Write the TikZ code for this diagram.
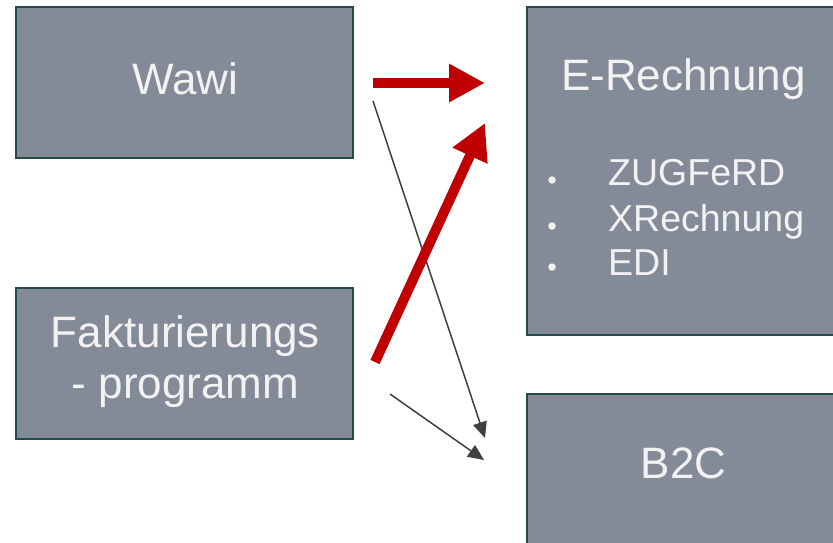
\documentclass[tikz,border=0pt]{standalone}
\usepackage{fontspec}
\setmainfont{Liberation Sans}
\usetikzlibrary{arrows.meta}
\definecolor{boxfill}{HTML}{848B98}
\definecolor{boxline}{HTML}{244A4A}
\definecolor{txt}{HTML}{F2F2F2}
\definecolor{redarrow}{HTML}{C00000}
\definecolor{thinarrow}{HTML}{404040}
\tikzset{
  block/.style={draw=boxline, line width=2.5pt, fill=boxfill, inner sep=0pt},
  bigtext/.style={text=txt, font=\fontsize{44}{51}\selectfont, inner sep=0pt, align=center},
  listtext/.style={text=txt, font=\fontsize{37.5}{45}\selectfont, inner sep=0pt, anchor=base west},
  bulletdot/.style={circle, fill=txt, inner sep=0pt, minimum size=7.5pt},
  redconn/.style={draw=redarrow, line width=10pt, -{Triangle[length=36pt,width=36pt]}, shorten >=0pt},
  thinconn/.style={draw=thinarrow, line width=1.5pt, -{Triangle[length=16pt,width=14pt]}}
}
\begin{document}
\begin{tikzpicture}[x=1pt,y=-1pt]
\useasboundingbox (0,0) rectangle (833,542);
\fill[white] (0,0) rectangle (833,542);
\clip (0,0) rectangle (833,542);
% boxes
\node[block, minimum width=337pt, minimum height=151pt] (wawi) at (184.5,82.5) {};
\node[block, minimum width=337pt, minimum height=151pt] (fakt) at (184.5,363.5) {};
\node[block, minimum width=320pt, minimum height=328pt] (erech) at (687,171) {};
\node[block, minimum width=320pt, minimum height=180pt] (b2c) at (687,484) {};
% texts
\node[bigtext, anchor=base] (wawitext) at (185.5,94) {Wawi};
\node[bigtext] (fakttext) at (185.5,362) {Fakturierungs\\- programm};
\node[bigtext, anchor=base] (erechtext) at (683.5,90) {E-Rechnung};
\node[bigtext, anchor=base] (b2ctext) at (683.5,478) {B2C};
\node[listtext] (l1) at (608,185) {ZUGFeRD};
\node[listtext] (l2) at (608,231) {XRechnung};
\node[listtext] (l3) at (608,275) {EDI};
\node[bulletdot] (b1) at (552,180) {};
\node[bulletdot] (b2) at (552,226) {};
\node[bulletdot] (b3) at (552,267) {};
% connector endpoints
\coordinate (r1s) at (373,83);
\coordinate (r1e) at (485,83);
\coordinate (r2s) at (375,362);
\coordinate (r2e) at (485,123);
\coordinate (t1s) at (373,101);
\coordinate (t1e) at (485,438);
\coordinate (t2s) at (390,394);
\coordinate (t2e) at (484,460);
% connectors
\draw[thinconn] (t1s) -- (t1e);
\draw[thinconn] (t2s) -- (t2e);
\draw[redconn] (r1s) -- (r1e);
\draw[redconn] (r2s) -- (r2e);
\end{tikzpicture}
\end{document}
